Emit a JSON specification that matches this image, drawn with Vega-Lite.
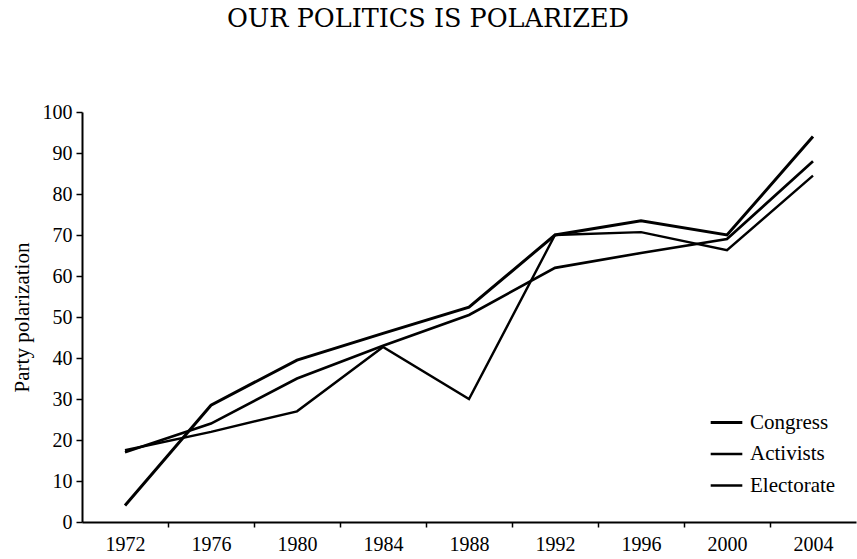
{
  "$schema": "https://vega.github.io/schema/vega-lite/v6.json",
  "width": 774,
  "height": 410,
  "autosize": "none",
  "padding": {"left": 82, "top": 112, "right": 1, "bottom": 37},
  "background": "white",
  "config": {
    "view": {"stroke": null},
    "font": "Liberation Serif",
    "axis": {"grid": false, "domainColor": "black", "tickColor": "black", "labelColor": "black", "titleColor": "black", "labelFont": "Liberation Serif", "titleFont": "Liberation Serif", "domainWidth": 2, "tickWidth": 1.5}
  },
  "title": {
    "text": "OUR POLITICS IS POLARIZED",
    "font": "DejaVu Serif",
    "fontSize": 25.5,
    "fontWeight": "normal",
    "color": "black",
    "anchor": "middle",
    "frame": "group",
    "dx": -41,
    "offset": 70
  },
  "data": {
    "values": [
      {"year": 1972, "series": "Congress", "value": 4},
      {"year": 1976, "series": "Congress", "value": 28.5},
      {"year": 1980, "series": "Congress", "value": 39.5},
      {"year": 1984, "series": "Congress", "value": 46},
      {"year": 1988, "series": "Congress", "value": 52.4},
      {"year": 1992, "series": "Congress", "value": 70},
      {"year": 1996, "series": "Congress", "value": 73.5},
      {"year": 2000, "series": "Congress", "value": 70},
      {"year": 2004, "series": "Congress", "value": 94},
      {"year": 1972, "series": "Activists", "value": 17},
      {"year": 1976, "series": "Activists", "value": 24},
      {"year": 1980, "series": "Activists", "value": 35},
      {"year": 1984, "series": "Activists", "value": 43},
      {"year": 1988, "series": "Activists", "value": 50.5},
      {"year": 1992, "series": "Activists", "value": 62},
      {"year": 1996, "series": "Activists", "value": 65.6},
      {"year": 2000, "series": "Activists", "value": 69},
      {"year": 2004, "series": "Activists", "value": 88},
      {"year": 1972, "series": "Electorate", "value": 17.5},
      {"year": 1976, "series": "Electorate", "value": 22},
      {"year": 1980, "series": "Electorate", "value": 27},
      {"year": 1984, "series": "Electorate", "value": 42.7},
      {"year": 1988, "series": "Electorate", "value": 30},
      {"year": 1992, "series": "Electorate", "value": 70},
      {"year": 1996, "series": "Electorate", "value": 70.7},
      {"year": 2000, "series": "Electorate", "value": 66.3},
      {"year": 2004, "series": "Electorate", "value": 84.5}
    ]
  },
  "layer": [
    {
      "mark": {"type": "line", "strokeJoin": "miter", "clip": false},
      "encoding": {
        "x": {
          "field": "year", "type": "quantitative",
          "scale": {"domain": [1970, 2006], "nice": false, "zero": false},
          "axis": {"title": null, "values": [1972, 1976, 1980, 1984, 1988, 1992, 1996, 2000, 2004], "format": "d", "ticks": false, "labelFontSize": 20, "labelPadding": 12, "labelFlush": false}
        },
        "y": {
          "field": "value", "type": "quantitative",
          "scale": {"domain": [0, 100], "nice": false},
          "axis": {"title": "Party polarization", "values": [0, 10, 20, 30, 40, 50, 60, 70, 80, 90, 100], "labelFontSize": 20, "titleFontSize": 21, "titleFontWeight": "normal", "tickSize": 6, "labelPadding": 4, "titlePadding": 10}
        },
        "color": {
          "field": "series", "type": "nominal",
          "scale": {"domain": ["Congress", "Activists", "Electorate"], "range": ["black", "black", "black"]},
          "legend": {"title": null, "orient": "none", "legendX": 627, "legendY": 293, "symbolType": "stroke", "symbolSize": 1000, "labelFontSize": 21, "labelFont": "Liberation Serif", "labelColor": "black", "rowPadding": 3.5, "labelOffset": 6}
        },
        "strokeWidth": {
          "field": "series", "type": "nominal",
          "scale": {"domain": ["Congress", "Activists", "Electorate"], "range": [3, 2.4, 2]},
          "legend": {"title": null, "orient": "none", "legendX": 627, "legendY": 293, "symbolType": "stroke", "symbolSize": 1000, "labelFontSize": 21, "labelFont": "Liberation Serif", "labelColor": "black", "rowPadding": 3.5, "labelOffset": 6}
        }
      }
    },
    {
      "mark": {"type": "line", "opacity": 0},
      "encoding": {
        "x": {
          "field": "year", "type": "quantitative",
          "axis": {"title": null, "orient": "bottom", "values": [1974, 1978, 1982, 1986, 1990, 1994, 1998, 2002], "labels": false, "domain": false, "tickSize": 5}
        },
        "y": {"field": "value", "type": "quantitative"},
        "detail": {"field": "series", "type": "nominal"}
      }
    }
  ],
  "resolve": {"axis": {"x": "independent"}}
}
